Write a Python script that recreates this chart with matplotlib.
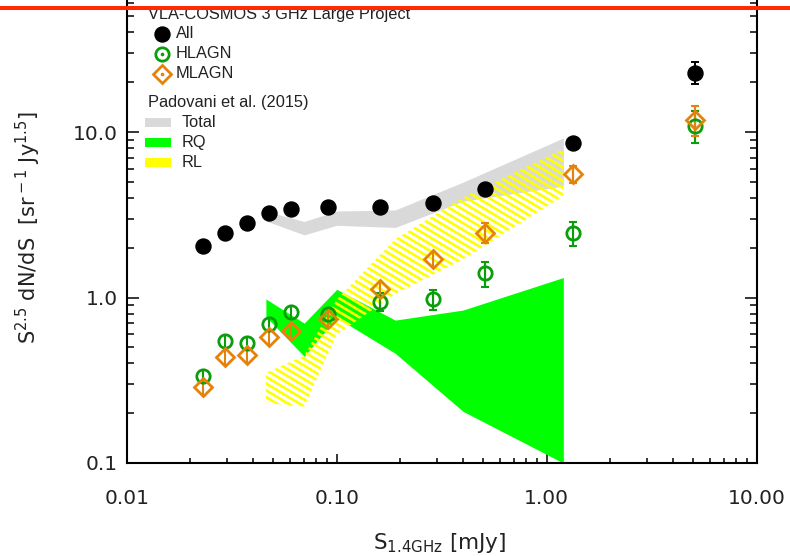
import numpy as np
import matplotlib
matplotlib.use("Agg")
import matplotlib.pyplot as plt
from matplotlib.collections import LineCollection
from matplotlib.lines import Line2D
from matplotlib.patches import Rectangle
from matplotlib.ticker import FixedLocator, FixedFormatter, LogLocator, NullFormatter

# ── VLA-COSMOS 3 GHz source counts, scaled to 1.4 GHz ────────────────────────
flux = [0.023, 0.0293, 0.0373, 0.0475, 0.0604, 0.091, 0.161, 0.287, 0.51, 1.33, 5.08]

all_counts = [2.05, 2.47, 2.81, 3.23, 3.41, 3.51, 3.50, 3.71, 4.51, 8.58, 22.8]
all_err_lo = [0.08, 0.09, 0.10, 0.10, 0.10, 0.10, 0.15, 0.20, 0.30, 0.60, 3.4]
all_err_hi = [0.08, 0.09, 0.10, 0.10, 0.10, 0.10, 0.15, 0.20, 0.30, 0.60, 3.6]

hlagn = [0.334, 0.544, 0.532, 0.693, 0.815, 0.790, 0.937, 0.982, 1.40, 2.47, 10.8]
hlagn_err_lo = [0.030, 0.050, 0.048, 0.063, 0.075, 0.072, 0.11, 0.136, 0.24, 0.42, 2.2]
hlagn_err_hi = [0.033, 0.054, 0.053, 0.069, 0.080, 0.078, 0.13, 0.125, 0.24, 0.39, 2.6]

mlagn = [0.286, 0.435, 0.451, 0.578, 0.625, 0.743, 1.129, 1.70, 2.44, 5.56, 11.8]
mlagn_err_lo = [0.034, 0.052, 0.054, 0.070, 0.075, 0.090, 0.14, 0.18, 0.32, 0.65, 2.3]
mlagn_err_hi = [0.040, 0.060, 0.062, 0.080, 0.085, 0.100, 0.15, 0.20, 0.37, 0.69, 2.6]

# ── Padovani et al. (2015) model bands ───────────────────────────────────────
model_flux = [0.046, 0.07, 0.10, 0.19, 0.40, 1.20]
total_hi = [3.32, 2.88, 3.33, 3.38, 4.98, 9.2]
total_lo = [2.90, 2.39, 2.73, 2.65, 3.82, 4.71]
rq_hi = [0.98, 0.70, 1.12, 0.73, 0.84, 1.32]
rq_lo = [0.767, 0.441, 0.756, 0.46, 0.205, 0.10]
rl_hi = [0.35, 0.445, 0.972, 2.25, 4.02, 7.89]
rl_lo = [0.230, 0.219, 0.597, 1.05, 1.70, 4.11]

xticks = [0.01, 0.1, 1.0, 10.0]
xtick_labels = ["0.01", "0.10", "1.00", "10.00"]
yticks = [0.1, 1.0, 10.0]
ytick_labels = ["0.1", "1.0", "10.0"]

c_green = "#0a9e0a"
c_orange = "#e5820c"
c_text = "#222222"

W, H = 790, 556
fig = plt.figure(figsize=(W / 100, H / 100), dpi=100)
ax = fig.add_axes([126.7 / W, 93 / H, 630 / W, 496.5 / H])
ax.set_xscale("log")
ax.set_yscale("log")
ax.set_xlim(0.01, 10.0)
ax.set_ylim(0.1, 100.0)


def px(x, y):
    """figure pixel (from top-left) -> figure fraction"""
    return x / W, 1 - y / H


# model bands
ax.fill_between(model_flux, total_lo, total_hi, color="#d9d9d9", lw=0, zorder=1)
ax.fill_between(model_flux, rq_lo, rq_hi, color="#00ff00", lw=0, zorder=2)

# RL band is hatched: slanted lines clipped to the band outline
rl_poly = ax.fill(np.r_[model_flux, model_flux[::-1]], np.r_[rl_hi, rl_lo[::-1]],
                  facecolor="none", edgecolor="none", zorder=3)[0]
aw, ah = 630.0, 496.5
slope = np.tan(np.radians(31))
step = 6.8
segs = []
for c in np.arange(0, ah + slope * aw + step, step):
    segs.append([(0, c / ah), (1, (c - slope * aw) / ah)])
hatch = LineCollection(segs, colors="#ffff00", linewidths=1.9,
                       transform=ax.transAxes, zorder=3)
hatch.set_clip_path(rl_poly)
ax.add_collection(hatch)


def points(y, lo, hi, first_cap, zorder, **kw):
    # bars that stay inside the symbol get no caps
    ax.errorbar(flux, y, yerr=[lo, hi], capsize=0, zorder=zorder, **kw)
    sl = slice(first_cap, None)
    ax.errorbar(flux[sl], y[sl], yerr=[lo[sl], hi[sl]], fmt="none", ecolor=kw["color"],
                elinewidth=kw["elinewidth"], capsize=2.6, capthick=kw["elinewidth"],
                zorder=zorder)


points(all_counts, all_err_lo, all_err_hi, 10, 6, fmt="o", color="black",
       ms=10.8, elinewidth=1.4)
points(hlagn, hlagn_err_lo, hlagn_err_hi, 6, 5, fmt="o", color=c_green,
       mfc="none", mew=2.0, ms=9.6, elinewidth=1.5)
points(mlagn, mlagn_err_lo, mlagn_err_hi, 8, 5, fmt="D", color=c_orange,
       mfc="none", mew=2.0, ms=9.3, elinewidth=1.5)

# axes styling
for s in ax.spines.values():
    s.set_linewidth(1.5)
ax.xaxis.set_major_locator(FixedLocator(xticks))
ax.xaxis.set_major_formatter(FixedFormatter(xtick_labels))
ax.yaxis.set_major_locator(FixedLocator(yticks))
ax.yaxis.set_major_formatter(FixedFormatter(ytick_labels))
ax.xaxis.set_minor_locator(LogLocator(base=10, subs=np.arange(2, 10), numticks=20))
ax.yaxis.set_minor_locator(LogLocator(base=10, subs=np.arange(2, 10), numticks=20))
ax.xaxis.set_minor_formatter(NullFormatter())
ax.yaxis.set_minor_formatter(NullFormatter())
ax.tick_params(which="both", direction="in", top=True, right=True, width=1.1,
               colors="black", labelcolor=c_text, labelsize=14.5)
ax.tick_params(axis="x", which="major", length=6.5, pad=19)
ax.tick_params(axis="x", which="minor", length=3.4)
ax.tick_params(axis="y", which="major", length=8.6, pad=6.5)
ax.tick_params(axis="y", which="minor", length=4.8)

fig.text(*px(440, 543), r"S$_{\rm 1.4GHz}$ [mJy]", ha="center", va="center",
         fontsize=15.5, color=c_text)
fig.text(*px(28, 228), r"S$^{\rm 2.5}$ dN/dS  [sr$^{\rm -1}$ Jy$^{\rm 1.5}$]",
         ha="center", va="center", rotation=90, fontsize=15, color=c_text)

# legend, drawn by hand
lfont = dict(family="Liberation Sans", fontsize=11.8, color=c_text, va="center")
fig.text(*px(148, 15), "VLA-COSMOS 3 GHz Large Project", **lfont)
mk = [("All", dict(marker="o", color="black", ms=10.8)),
      ("HLAGN", dict(marker="o", mfc="none", mec=c_green, mew=2.0, ms=9.6)),
      ("MLAGN", dict(marker="D", mfc="none", mec=c_orange, mew=2.0, ms=9.3))]
for i, (lab, kw) in enumerate(mk):
    yy = 33.5 + 20 * i
    fig.add_artist(Line2D([px(162, yy)[0]], [px(162, yy)[1]], linestyle="none",
                          transform=fig.transFigure, **kw))
    if lab != "All":
        fig.add_artist(Line2D([px(162, yy)[0]], [px(162, yy)[1]], linestyle="none",
                              marker="o", ms=1.6, color=kw["mec"], transform=fig.transFigure))
    fig.text(*px(176, yy), lab, **lfont)

fig.text(*px(148, 102), "Padovani et al. (2015)", **lfont)
for i, (lab, col) in enumerate([("Total", "#d9d9d9"), ("RQ", "#00ff00"), ("RL", "#ffff00")]):
    yy = 122.5 + 20 * i
    x0, y0 = px(145, yy + 4.5)
    fig.add_artist(Rectangle((x0, y0), 26 / W, 9 / H, facecolor=col, edgecolor="none",
                             transform=fig.transFigure))
    fig.text(*px(181.5, yy), lab, **lfont)

# red rule across the top
fig.add_artist(Line2D([0, 1], [1 - 8 / H] * 2, color="#ff2a00", lw=2.9,
                      transform=fig.transFigure, zorder=10))

fig.savefig("out.png", dpi=100)
